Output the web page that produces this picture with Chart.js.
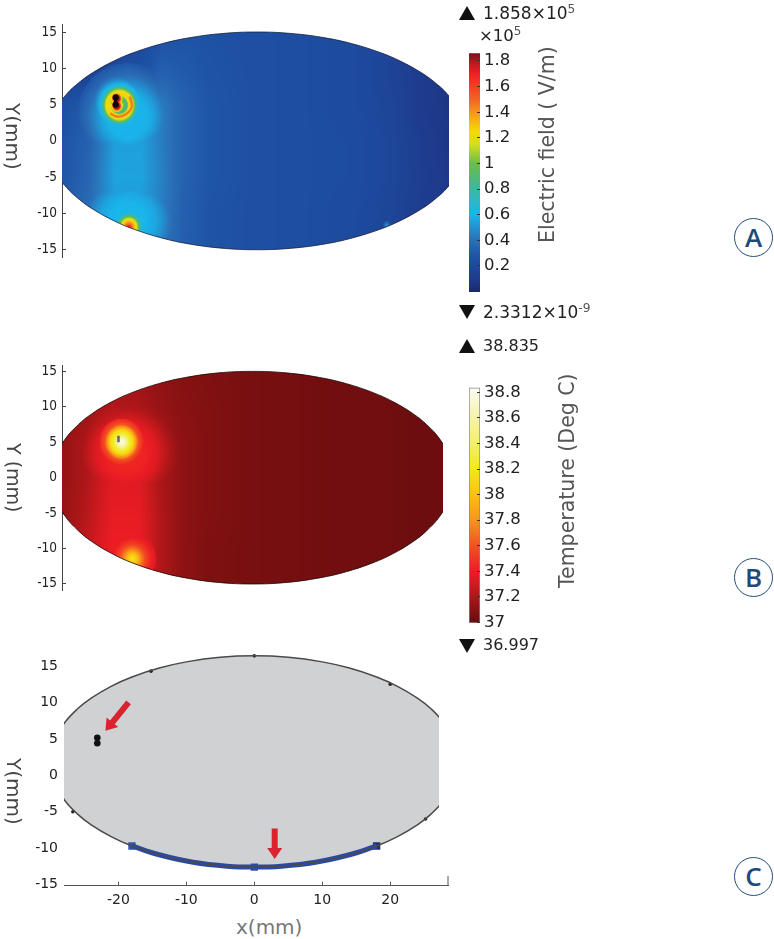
<!DOCTYPE html>
<html>
<head>
<meta charset="utf-8">
<title>Electric field and temperature</title>
<script src="https://cdn.jsdelivr.net/npm/chart.js@4/dist/chart.umd.min.js"></script>
<style>
  html, body { margin: 0; background: #fff; }
  #page { position: relative; width: 774px; height: 939px; overflow: hidden; font-family: "DejaVu Sans", sans-serif; color: #222; }
  canvas { position: absolute; }
  .txt { position: absolute; white-space: nowrap; line-height: 1; }
  .txt sup { font-size: 72%; vertical-align: 0.5em; line-height: 0; color: #555; }
  .rot { transform-origin: 0 0; }
  .tri { position: absolute; width: 0; height: 0; border-left: 8px solid transparent; border-right: 8px solid transparent; }
  .up { border-bottom: 14px solid #111; }
  .down { border-top: 14px solid #111; }
  .badge { position: absolute; width: 37px; height: 37px; border: 1.3px solid #23507f; border-radius: 50%; color: #1f4a78;
           font: 600 26px/37px "Open Sans", sans-serif; text-align: center; }
</style>
</head>
<body>
<div id="page">
  <canvas id="chartA" style="left:0;top:0" width="460" height="300"></canvas>
  <canvas id="barA" style="left:440px;top:30px" width="120" height="280"></canvas>
  <canvas id="chartB" style="left:0;top:330px" width="460" height="280"></canvas>
  <canvas id="barB" style="left:440px;top:370px" width="120" height="270"></canvas>
  <canvas id="chartC" style="left:0;top:620px" width="460" height="285"></canvas>

  <div class="tri up" style="left:459px;top:6px"></div>
  <div class="txt" style="left:483px;top:5px;font-size:17px">1.858×10<sup>5</sup></div>
  <div class="txt" style="left:479px;top:28px;font-size:16.5px">×10<sup>5</sup></div>
  <div class="tri down" style="left:459px;top:305px"></div>
  <div class="txt" style="left:483px;top:304px;font-size:17px">2.3312×10<sup>-9</sup></div>
  <div class="tri up" style="left:459px;top:339px"></div>
  <div class="txt" style="left:483px;top:338px;font-size:16px">38.835</div>
  <div class="tri down" style="left:459px;top:639px"></div>
  <div class="txt" style="left:483px;top:637px;font-size:16px">36.997</div>

  <div class="txt rot" style="left:537px;top:243px;font-size:20.5px;color:#555;transform:rotate(-90deg)">Electric field ( V/m)</div>
  <div class="txt rot" style="left:557px;top:588px;font-size:20.5px;color:#555;transform:rotate(-90deg)">Temperature (Deg C)</div>
  <div class="txt rot" style="left:23px;top:103px;font-size:20px;color:#444;transform:rotate(90deg)">Y(mm)</div>
  <div class="txt rot" style="left:23px;top:443px;font-size:19px;color:#444;transform:rotate(90deg)">Y (mm)</div>
  <div class="txt rot" style="left:24px;top:758px;font-size:20px;color:#444;transform:rotate(90deg)">Y(mm)</div>
  <div class="txt" style="left:236px;top:917px;font-size:20px;color:#777">x(mm)</div>

  <div class="badge" style="left:734px;top:218px">A</div>
  <div class="badge" style="left:734px;top:558px">B</div>
  <div class="badge" style="left:734px;top:857px">C</div>
</div>

<script>
// colour scales
const jetValues = [0, 0.1, 0.25, 0.4, 0.5, 0.6, 0.7, 0.85, 1.0, 1.15, 1.25, 1.4, 1.5, 1.7, 1.8, 1.858];
const jetColors = ['#1a2a6c', '#1e3b8e', '#1d4fa2', '#2a6fb8', '#2391d0', '#19b5ec', '#29b9c9', '#45b98d', '#6cbd45', '#d5de20', '#f5d90a', '#f7941d', '#f26522', '#ee2024', '#b0181f', '#7a1020'];
const heatValues = [36.997, 37.1, 37.3, 37.4, 37.6, 37.8, 38.0, 38.2, 38.4, 38.6, 38.835];
const heatColors = ['#650c0e', '#8a1212', '#d01a1f', '#ed1c24', '#f2521f', '#f7941d', '#fdc010', '#f2e91a', '#f3ef6a', '#f6f4a8', '#fdfdf5'];

const yTicks = [15, 10, 5, 0, -5, -10, -15];
const xTicks = [-20, -10, 0, 10, 20];
const fieldTicks = [1.8, 1.6, 1.4, 1.2, 1, 0.8, 0.6, 0.4, 0.2];
const tempTicks = [38.8, 38.6, 38.4, 38.2, 38, 37.8, 37.6, 37.4, 37.2, 37];

// sample positions of the coarse background fields (mm)
const gridX = [-29, -25, -21, -17, -14, -11, -7, 0, 7, 14, 20, 24, 29];
const gridY = [16, 10, 5, 0, -5, -10, -16];

// electric field, x10^5 V/m
const fieldGrid = [
  [.18, .14, .16, .20, .24, .26, .26, .25, .24, .22, .16, .10, .07],
  [.18, .12, .20, .25, .32, .30, .27, .25, .24, .22, .16, .10, .07],
  [.24, .30, .40, .46, .44, .34, .28, .25, .24, .22, .17, .10, .07],
  [.27, .33, .54, .54, .44, .34, .28, .25, .24, .23, .18, .11, .07],
  [.27, .35, .55, .55, .45, .34, .28, .25, .24, .23, .18, .12, .08],
  [.30, .38, .52, .52, .44, .33, .27, .25, .24, .22, .17, .11, .08],
  [.30, .38, .50, .50, .42, .32, .27, .25, .24, .22, .17, .11, .08]
];
// temperature, deg C
const tempGrid = [
  [37.08, 37.10, 37.12, 37.12, 37.11, 37.09, 37.07, 37.05, 37.04, 37.03, 37.03, 37.02, 37.02],
  [37.10, 37.14, 37.22, 37.20, 37.14, 37.10, 37.08, 37.05, 37.04, 37.03, 37.03, 37.02, 37.02],
  [37.12, 37.20, 37.40, 37.36, 37.20, 37.12, 37.08, 37.05, 37.04, 37.03, 37.03, 37.02, 37.02],
  [37.12, 37.20, 37.35, 37.35, 37.20, 37.12, 37.08, 37.05, 37.04, 37.03, 37.03, 37.02, 37.02],
  [37.12, 37.22, 37.38, 37.38, 37.22, 37.12, 37.08, 37.05, 37.04, 37.03, 37.03, 37.02, 37.02],
  [37.15, 37.25, 37.40, 37.40, 37.22, 37.12, 37.07, 37.05, 37.04, 37.03, 37.03, 37.02, 37.02],
  [37.15, 37.25, 37.40, 37.40, 37.22, 37.12, 37.07, 37.05, 37.04, 37.03, 37.03, 37.02, 37.02]
];

// hot spots: centre (mm) plus value against distance from centre (mm)
const fieldSpots = [
  { x: -19.1, y: 3.3, r: [0, 3, 4, 5, 6, 7.5], v: [.60, .59, .54, .46, .38, .28] },
  { x: -20.3, y: 5.0, r: [0, .4, .7, 1.05, 1.35, 1.6, 1.9, 2.25, 2.6, 3, 3.6, 4.5], v: [1.3, 1.2, .95, .85, 1.2, 1.28, 1.22, 1.0, .68, .58, .45, .3] },
  { x: -20.7, y: 5.9, r: [0, .3, .5, .7, .9], v: [1.858, 1.858, 1.7, 1.3, 1.0] },
  { x: -20.7, y: 4.9, r: [0, .3, .5, .7, .9], v: [1.858, 1.858, 1.7, 1.3, 1.0] },
  { x: -19, y: -11, r: [0, 2.5, 4, 5, 6.5], v: [.62, .60, .56, .50, .38] },
  { x: -18.9, y: -11.8, r: [0, .4, .85, 1.2, 1.55, 1.9], v: [1.75, 1.5, 1.3, 1.15, .85, .65] },
  { x: 19, y: -11.5, r: [0, .3, .6], v: [.55, .35, .22] }
];
const tempSpots = [
  { x: -18.9, y: 3.5, r: [0, 3, 4.5, 5.5, 6.5, 8], v: [37.45, 37.42, 37.35, 37.27, 37.2, 37.12] },
  { x: -19.6, y: 5.1, r: [0, .6, 1.2, 1.7, 2, 2.5, 3.3], v: [38.8, 38.6, 38.25, 38.1, 37.9, 37.6, 37.42] },
  { x: -18, y: -11.4, r: [0, .7, 1.3, 2, 2.8, 3.5], v: [38.2, 38.0, 37.75, 37.55, 37.42, 37.35] }
];

// boundary of the section, left to right (mm)
const outlineAX = [-31, -30, -28, -26, -24, -21, -18, -14, -10, -5, 0, 5, 10, 14, 18, 21, 24, 26, 28, 30, 31];
const outlineAUp = [0, 3.78, 6.44, 8.17, 9.49, 11.03, 12.21, 13.38, 14.2, 14.8, 15, 14.8, 14.2, 13.38, 12.21, 11.03, 9.49, 8.17, 6.44, 3.78, 0];
const outlineALow = [0, -3.78, -6.44, -8.17, -9.49, -11.03, -12.21, -13.38, -14.2, -14.8, -15, -14.8, -14.2, -13.38, -12.21, -11.03, -9.49, -8.17, -6.44, -3.78, 0];
const outlineBX = [-30, -29.5, -28, -26, -24, -21, -18, -14, -10, -5, 0, 5, 10, 14, 18, 21, 24, 26, 28, 29.5, 30];
const outlineBUp = [0, 2.73, 5.39, 7.48, 9, 10.71, 12, 13.27, 14.14, 14.79, 15, 14.79, 14.14, 13.27, 12, 10.71, 9, 7.48, 5.39, 2.73, 0];
const outlineBLow = [0, -2.73, -5.39, -7.48, -9, -10.71, -12, -13.27, -14.14, -14.79, -15, -14.79, -14.14, -13.27, -12, -10.71, -9, -7.48, -5.39, -2.73, 0];
const outlineCX = outlineBX;
const outlineCUp = [1.9, 4.54, 7.1, 9.13, 10.6, 12.25, 13.5, 14.72, 15.57, 16.2, 16.4, 16.2, 15.57, 14.72, 13.5, 12.25, 10.6, 9.13, 7.1, 4.54, 1.9];
const outlineCLow = [1.9, -.74, -3.3, -5.33, -6.8, -8.45, -9.7, -10.92, -11.77, -12.4, -12.6, -12.4, -11.77, -10.92, -9.7, -8.45, -6.8, -5.33, -3.3, -.74, 1.9];

// panel marks
const coreA = [[-20.8, 6.0], [-20.8, 5.0]];
const crescentA = [[-18.7, 6.1], [-18.4, 4.7], [-19.4, 3.6], [-20.6, 3.35], [-21.6, 3.8]];
const coreB = [[-20, 5.9], [-20, 5.0]];
const electrodeC = [[-23.1, 5.15], [-23.1, 4.4]];
const vertexC = [[0, 16.4], [-15.2, 14.3], [20, 12.5], [-26.7, -5], [25.2, -6]];
const applicatorX = [-18, -14, -9, -4, 0, 4, 9, 14, 18];
const applicatorY = [-9.7, -10.9, -11.93, -12.47, -12.6, -12.47, -11.93, -10.9, -9.7];
const applicatorEnds = [[-18, -9.7], [0, -12.6], [18, -9.7]];
const arrowLeft = [[-18.5, 10], [-21.9, 6.1]];
const arrowDown = [[3, -7.3], [3, -11.5]];

function toPoints(pairs) { return pairs.map(p => ({ x: p[0], y: p[1] })); }

function closedOutline(xs, up, low) {
  const pts = xs.map((x, i) => ({ x: x, y: up[i] }));
  for (let i = xs.length - 2; i >= 0; i--) pts.push({ x: xs[i], y: low[i] });
  return pts;
}

function hexToRgb(h) {
  return [parseInt(h.slice(1, 3), 16), parseInt(h.slice(3, 5), 16), parseInt(h.slice(5, 7), 16)];
}

// piecewise linear lookup, xs ascending
function lookup(xs, ys, x) {
  if (x <= xs[0]) return ys[0];
  for (let i = 1; i < xs.length; i++) {
    if (x <= xs[i]) return ys[i - 1] + (ys[i] - ys[i - 1]) * (x - xs[i - 1]) / (xs[i] - xs[i - 1]);
  }
  return ys[ys.length - 1];
}

function colorAt(values, rgbs, v) {
  return [0, 1, 2].map(k => lookup(values, rgbs.map(r => r[k]), v));
}

function gridValue(grid, x, y) {
  let i = 0, j = 0;
  while (i < gridX.length - 2 && x > gridX[i + 1]) i++;
  while (j < gridY.length - 2 && y < gridY[j + 1]) j++;
  const tx = Math.min(1, Math.max(0, (x - gridX[i]) / (gridX[i + 1] - gridX[i])));
  const ty = Math.min(1, Math.max(0, (gridY[j] - y) / (gridY[j] - gridY[j + 1])));
  const a = grid[j][i] + (grid[j][i + 1] - grid[j][i]) * tx;
  const b = grid[j + 1][i] + (grid[j + 1][i + 1] - grid[j + 1][i]) * tx;
  return a + (b - a) * ty;
}

// paints the field under the datasets, through the chart's scales, clipped to the outline dataset
const fieldPlugin = {
  id: 'fieldPlugin',
  beforeDatasetsDraw(chart, args, opts) {
    const { ctx, chartArea: area, scales } = chart;
    const w = Math.ceil(area.right - area.left), h = Math.ceil(area.bottom - area.top);
    const off = document.createElement('canvas');
    off.width = w; off.height = h;
    const octx = off.getContext('2d');
    const img = octx.createImageData(w, h);
    const rgbs = opts.colors.map(hexToRgb);
    for (let py = 0; py < h; py++) {
      const y = scales.y.getValueForPixel(area.top + py);
      for (let px = 0; px < w; px++) {
        const x = scales.x.getValueForPixel(area.left + px);
        let v = gridValue(opts.grid, x, y);
        opts.spots.forEach(s => {
          const d = Math.hypot(x - s.x, y - s.y);
          if (d < s.r[s.r.length - 1]) v = Math.max(v, lookup(s.r, s.v, d));
        });
        const c = colorAt(opts.values, rgbs, v);
        const o = (py * w + px) * 4;
        img.data[o] = c[0]; img.data[o + 1] = c[1]; img.data[o + 2] = c[2]; img.data[o + 3] = 255;
      }
    }
    octx.putImageData(img, 0, 0);
    ctx.save();
    ctx.beginPath();
    ctx.rect(area.left, area.top, w, h);
    ctx.clip();
    ctx.beginPath();
    chart.getDatasetMeta(0).dataset.path(ctx);
    ctx.clip();
    ctx.filter = 'blur(0.7px)';
    ctx.drawImage(off, area.left, area.top);
    ctx.restore();
  }
};

// grey section fill and the two red arrows of panel C
const sectionPlugin = {
  id: 'sectionPlugin',
  beforeDatasetsDraw(chart) {
    const { ctx, chartArea: area } = chart;
    ctx.save();
    ctx.beginPath();
    ctx.rect(area.left, area.top, 375, area.bottom - area.top);
    ctx.clip();
    ctx.beginPath();
    chart.getDatasetMeta(0).dataset.path(ctx);
    ctx.fillStyle = '#cfd1d2';
    ctx.fill();
    ctx.restore();
  },
  afterDatasetsDraw(chart) {
    const { ctx, scales } = chart;
    [arrowLeft, arrowDown].forEach(a => {
      const x0 = scales.x.getPixelForValue(a[0][0]), y0 = scales.y.getPixelForValue(a[0][1]);
      const x1 = scales.x.getPixelForValue(a[1][0]), y1 = scales.y.getPixelForValue(a[1][1]);
      const t = Math.atan2(y1 - y0, x1 - x0);
      ctx.save();
      ctx.translate(x1, y1);
      ctx.rotate(t);
      const len = Math.hypot(x1 - x0, y1 - y0);
      ctx.fillStyle = '#d9232e';
      ctx.beginPath();
      ctx.moveTo(0, 0); ctx.lineTo(-11, -7.5); ctx.lineTo(-11, -3); ctx.lineTo(-len, -3);
      ctx.lineTo(-len, 3); ctx.lineTo(-11, 3); ctx.lineTo(-11, 7.5); ctx.closePath();
      ctx.fill();
      ctx.restore();
    });
  }
};

function axisOptions(box, W, H, xRange, yRange, showYLine) {
  return {
    responsive: false,
    animation: false,
    events: [],
    layout: { padding: { left: 0, top: box.top, right: W - box.right, bottom: H - box.bottom } },
    plugins: { legend: { display: false }, tooltip: { enabled: false } },
    scales: {
      x: { type: 'linear', min: xRange[0], max: xRange[1], display: false },
      y: {
        type: 'linear',
        min: yRange[0], max: yRange[1],
        afterBuildTicks: s => { s.ticks = yTicks.map(v => ({ value: v })); },
        afterFit: s => { s.width = box.left; },
        border: { display: showYLine, color: '#444', width: 1 },
        grid: { drawOnChartArea: false, drawTicks: showYLine, tickLength: -4, color: '#444' },
        ticks: { padding: showYLine ? 9 : 6, color: '#222', autoSkip: false, maxRotation: 0, font: { family: 'DejaVu Sans Condensed, DejaVu Sans', size: 13.5 } }
      }
    }
  };
}

function outlineDataset(points, width, color) {
  return { type: 'scatter', data: points, showLine: true, tension: 0.4, capBezierPoints: false, fill: false, borderColor: color, borderWidth: width, pointRadius: 0 };
}

// panel A
new Chart(document.getElementById('chartA').getContext('2d'), {
  type: 'scatter',
  data: { datasets: [
    outlineDataset(closedOutline(outlineAX, outlineAUp, outlineALow), 0.8, '#16213f'),
    { data: toPoints(crescentA), showLine: true, tension: 0.4, borderColor: 'rgba(244,112,32,0.85)', borderWidth: 2.5, pointRadius: 0, fill: false },
    { data: toPoints(coreA), pointStyle: 'circle', pointRadius: 1.5, backgroundColor: '#120606', showLine: true, borderColor: '#120606', borderWidth: 3.2 }
  ] },
  options: Object.assign(axisOptions({ left: 62, top: 24.75, right: 449, bottom: 257 }, 460, 300, [-28.68, 28.24], [-16, 16], true), {
    plugins: { legend: { display: false }, tooltip: { enabled: false }, fieldPlugin: { grid: fieldGrid, spots: fieldSpots, values: jetValues, colors: jetColors } }
  }),
  plugins: [fieldPlugin]
});

// panel B
new Chart(document.getElementById('chartB').getContext('2d'), {
  type: 'scatter',
  data: { datasets: [
    outlineDataset(closedOutline(outlineBX, outlineBUp, outlineBLow), 0.8, '#1c0606'),
    { data: toPoints(coreB), showLine: true, borderColor: '#666', borderWidth: 2.5, pointRadius: 0 }
  ] },
  options: Object.assign(axisOptions({ left: 62, top: 35, right: 443, bottom: 260 }, 460, 280, [-28.43, 28.43], [-15.85, 15.9], true), {
    plugins: { legend: { display: false }, tooltip: { enabled: false }, fieldPlugin: { grid: tempGrid, spots: tempSpots, values: heatValues, colors: heatColors } }
  }),
  plugins: [fieldPlugin]
});

// panel C
const optionsC = axisOptions({ left: 64, top: 30, right: 448, bottom: 265.7 }, 460, 285, [-28, 28.5], [-15.15, 17.2], false);
optionsC.scales.x = {
  type: 'linear', min: -28, max: 28.5, display: true,
  afterBuildTicks: s => { s.ticks = xTicks.map(v => ({ value: v })); },
  afterFit: s => { s.height = 19.3; },
  border: { color: '#555', width: 1 },
  grid: { drawOnChartArea: false, tickLength: -4, color: '#555' },
  ticks: { padding: 10, color: '#222', autoSkip: false, maxRotation: 0, font: { family: 'DejaVu Sans', size: 14 } }
};
optionsC.scales.y.ticks.font = { family: 'DejaVu Sans', size: 14 };
optionsC.scales.y.ticks.padding = 6;
optionsC.layout.padding.bottom = 0;

const clipC = { left: 0, top: 0, right: -9, bottom: 0 };
new Chart(document.getElementById('chartC').getContext('2d'), {
  type: 'scatter',
  data: { datasets: [
    Object.assign(outlineDataset(closedOutline(outlineCX, outlineCUp, outlineCLow), 1.5, '#4a4a4a'), { clip: clipC }),
    { data: applicatorX.map((x, i) => ({ x: x, y: applicatorY[i] })), showLine: true, tension: 0.4, borderColor: '#2b49a6', borderWidth: 5, pointRadius: 0 },
    { data: toPoints(applicatorEnds), pointStyle: 'rect', pointRadius: 5.2, backgroundColor: ['#2f56ae', '#2f56ae', '#1f2f72'], borderWidth: 0 },
    { data: toPoints(electrodeC), pointStyle: 'circle', pointRadius: 3.3, backgroundColor: '#111', borderWidth: 0 },
    { data: toPoints(vertexC), pointStyle: 'circle', pointRadius: 1.8, backgroundColor: '#222', borderWidth: 0 },
    { data: [{ x: 28.5, y: -15.15 }, { x: 28.5, y: -13.8 }], showLine: true, borderColor: '#555', borderWidth: 1, pointRadius: 0, clip: false }
  ] },
  options: optionsC,
  plugins: [sectionPlugin]
});

// colour bar, a single floating bar filled with the colour scale
function colorBar(id, values, colors, range, ticks, box, W, H, edge) {
  new Chart(document.getElementById(id).getContext('2d'), {
    type: 'bar',
    data: {
      labels: ['scale'],
      datasets: [{
        data: [[values[0], values[values.length - 1]]],
        barPercentage: 1,
        categoryPercentage: 1,
        borderWidth: edge ? 1 : 0,
        borderColor: edge || 'transparent',
        borderSkipped: false,
        backgroundColor: c => {
          const s = c.chart.scales.y;
          const lo = values[0], hi = values[values.length - 1];
          const p0 = s ? s.getPixelForValue(lo) : NaN, p1 = s ? s.getPixelForValue(hi) : NaN;
          if (!isFinite(p0) || !isFinite(p1)) return colors[0];
          const g = c.chart.ctx.createLinearGradient(0, p0, 0, p1);
          values.forEach((v, i) => g.addColorStop((v - lo) / (hi - lo), colors[i]));
          return g;
        }
      }]
    },
    options: {
      responsive: false,
      animation: false,
      events: [],
      layout: { padding: { left: box.left, top: box.top, right: 0, bottom: H - box.bottom } },
      plugins: { legend: { display: false }, tooltip: { enabled: false } },
      scales: {
        x: { display: false },
        y: {
          position: 'right',
          min: range[0], max: range[1],
          afterBuildTicks: s => { s.ticks = ticks.map(v => ({ value: v })); },
          afterFit: s => { s.width = W - box.right; },
          border: { display: false },
          grid: { drawOnChartArea: false, tickLength: -3, color: '#333', z: 2 },
          ticks: { padding: 7, color: '#222', autoSkip: false, maxRotation: 0, callback: v => String(v), font: { family: 'DejaVu Sans', size: 16.5 } }
        }
      }
    }
  });
}

colorBar('barA', jetValues, jetColors, [-0.003, 1.87], fieldTicks, { left: 29, top: 22, right: 40, bottom: 262 }, 120, 280);
colorBar('barB', heatValues, heatColors, [36.995, 38.843], tempTicks, { left: 29, top: 14.3, right: 40, bottom: 255 }, 120, 270, '#888');
</script>
</body>
</html>
